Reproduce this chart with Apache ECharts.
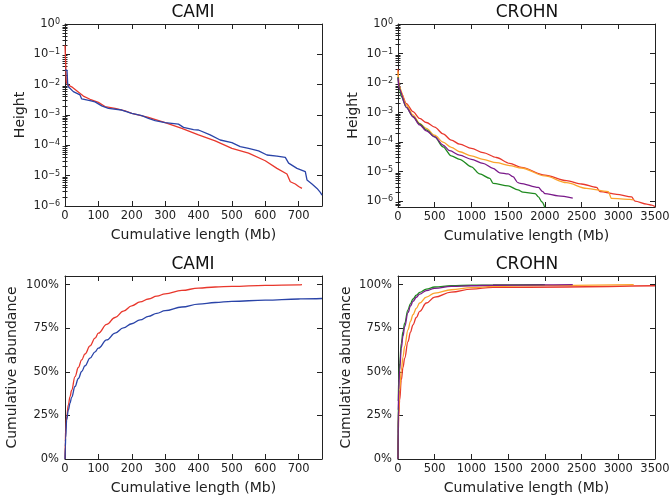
<!DOCTYPE html>
<html>
<head>
<meta charset="utf-8">
<script src="https://cdn.jsdelivr.net/npm/echarts@6/dist/echarts.min.js"></script>
<style>
  html, body { margin: 0; padding: 0; background: #fff; }
  #chart { width: 670px; height: 499px; }
</style>
</head>
<body>
<div id="chart"></div>
<script>
// CAMI, height vs cumulative length (Mb)
const camiRedHLen = [0, 2, 4, 8, 20, 35, 55, 75, 100, 120, 150, 180, 200, 250, 300, 350, 400, 450, 500, 550, 600, 635, 665, 675, 690, 700, 710];
const camiRedH = [0.2, 0.05, 0.012, 0.0098, 0.0085, 0.0063, 0.0042, 0.0033, 0.0026, 0.0019, 0.00166, 0.00138, 0.00113, 0.00083, 0.00056, 0.00036, 0.00022, 0.00014, 7.9e-5, 5.5e-5, 3.1e-5, 1.74e-5, 1.13e-5, 6.3e-6, 5.3e-6, 4.4e-6, 3.8e-6];
const camiBlueHLen = [0, 4, 6, 8, 10, 25, 45, 50, 75, 90, 110, 130, 170, 200, 230, 250, 270, 300, 340, 355, 385, 400, 435, 465, 500, 525, 550, 580, 605, 635, 660, 670, 695, 720, 725, 740, 755, 765, 770];
const camiBlueH = [0.03, 0.032, 0.03, 0.011, 0.0085, 0.0059, 0.0046, 0.0034, 0.003, 0.0027, 0.002, 0.00166, 0.00146, 0.00113, 0.00095, 0.00078, 0.00065, 0.00056, 0.0005, 0.00039, 0.00033, 0.00032, 0.00022, 0.00015, 0.000123, 9.1e-5, 7.9e-5, 6.6e-5, 4.8e-5, 4.4e-5, 4e-5, 2.6e-5, 1.74e-5, 1.35e-5, 7.2e-6, 5.3e-6, 3.8e-6, 2.8e-6, 2.3e-6];

// CROHN, height vs cumulative length (Mb)
const crohnRedHLen = [0, 14, 45, 114, 204, 295, 386, 500, 613, 726, 840, 1000, 1158, 1340, 1521, 1680, 2000, 2295, 2500, 2704, 2750, 2977, 3181, 3227, 3386, 3454, 3500];
const crohnRedH = [0.03, 0.0085, 0.0045, 0.002, 0.00107, 0.00063, 0.00046, 0.00032, 0.00019, 0.000117, 8.5e-5, 6.1e-5, 4.4e-5, 3e-5, 1.9e-5, 1.38e-5, 7.6e-6, 4.9e-6, 3.8e-6, 2.9e-6, 2.1e-6, 1.7e-6, 1.4e-6, 1e-6, 7.9e-7, 7.3e-7, 6.5e-7];
const crohnOrangeHLen = [0, 14, 114, 204, 295, 386, 500, 613, 726, 840, 1000, 1158, 1340, 1521, 1680, 2000, 2295, 2567, 2863, 2908, 3158, 3210];
const crohnOrangeH = [0.025, 0.0076, 0.0018, 0.00083, 0.00043, 0.00029, 0.00017, 0.0001, 6.6e-5, 4.7e-5, 3.4e-5, 2.6e-5, 2e-5, 1.6e-5, 1.32e-5, 7.1e-6, 4.2e-6, 2.7e-6, 2.1e-6, 1.23e-6, 1.15e-6, 1.1e-6];
const crohnPurpleHLen = [0, 14, 114, 204, 295, 386, 500, 613, 704, 840, 1000, 1158, 1294, 1385, 1500, 1566, 1634, 1663, 1912, 1971, 2000, 2181, 2380];
const crohnPurpleH = [0.015, 0.0066, 0.0015, 0.00072, 0.00038, 0.00024, 0.00015, 7.9e-5, 5.1e-5, 3.6e-5, 2.6e-5, 1.9e-5, 1.29e-5, 9.1e-6, 8.3e-6, 6.7e-6, 4.2e-6, 4e-6, 2.9e-6, 2.1e-6, 1.8e-6, 1.5e-6, 1.25e-6];
const crohnGreenHLen = [0, 14, 45, 114, 204, 295, 386, 500, 613, 726, 840, 1000, 1112, 1250, 1294, 1500, 1634, 1700, 1867, 1912, 1958, 2000];
const crohnGreenH = [0.016, 0.0076, 0.0035, 0.0015, 0.00072, 0.00041, 0.00026, 0.00015, 6.9e-5, 3.4e-5, 2.6e-5, 1.45e-5, 8.3e-6, 5.9e-6, 4e-6, 3.3e-6, 2.4e-6, 2e-6, 1.8e-6, 1.4e-6, 9.5e-7, 6e-7];

// cumulative abundance (%)
const camiAbLen = [0, 1, 2, 5, 10, 15, 20, 30, 40, 50, 60, 75, 90, 100, 125, 150, 175, 200, 225, 250, 275, 300, 350, 400, 450, 500, 600, 700, 710, 770];
const camiRedAb = [0, 10, 16.7, 24.3, 31, 35.8, 39.5, 47.3, 52.5, 56.9, 60.3, 64.9, 69.3, 72.2, 77.2, 81.2, 84.8, 87.9, 90.1, 91.8, 93.4, 94.8, 96.7, 98.1, 98.7, 99.0, 99.6, 99.9, 100];
const camiBlueAb = [0, 7, 12, 22.4, 28, 32, 35.5, 41.6, 46.2, 50.2, 53.5, 57.9, 61.5, 63.6, 68.3, 72.2, 75.2, 77.6, 79.8, 81.8, 83.6, 85.1, 87.2, 88.9, 89.8, 90.4, 91.2, 91.8, 91.9, 92.1];

const crohnAbLen = [0, 4, 9, 23, 45, 68, 91, 136, 170, 204, 250, 295, 386, 500, 726, 1000, 1294, 2000];
const crohnGreenAb = [0, 33, 45, 55, 66.5, 73, 78, 85.6, 89.2, 91.8, 94, 95.6, 97.5, 98.7, 99.4, 99.7, 99.85, 100];
const crohnPurpleAb = [0, 28, 39.7, 51, 63.6, 70.5, 76, 84, 87.8, 90.4, 92.8, 94.6, 96.6, 97.9, 99.0, 99.4, 99.7, 99.9, 100];
const crohnOrangeAb = [0, 18, 28, 39.7, 51, 58.5, 64.6, 74.1, 79, 82.8, 86.5, 89.5, 92.9, 95.2, 97.1, 98.3, 99.0, 99.6, 100];
const crohnRedAb = [0, 15, 24.3, 33.9, 45.4, 52.5, 57.9, 67.4, 72.8, 77, 81.2, 84.7, 89.5, 92.9, 95.8, 97.5, 98.5, 99.4, 100];
const crohnAbEnd = { purple: 2380, orange: 3210, red: 3500 };

const camiTicks = [0, 100, 200, 300, 400, 500, 600, 700];
const crohnTicks = [0, 500, 1000, 1500, 2000, 2500, 3000, 3500];
const decadeTicks = [-6, -5, -4, -3, -2, -1, 0];
const pctTicks = [0, 25, 50, 75, 100];

const RED = '#e8372c', BLUE = '#2a44a8', ORANGE = '#fba42c', PURPLE = '#7a1a8a', GREEN = '#1f8a1f';
const FONT = 'DejaVu Sans';
const INK = '#222';

const zip = (xs, ys) => ys.map((y, i) => [xs[i], y]);
const zipLog = (xs, ys) => ys.map((y, i) => [xs[i], Math.log10(y)]);

function minorTicks(min) {
  const out = [];
  for (let d = -7; d < 0; d++) {
    for (let k = 2; k <= 9; k++) {
      const v = d + Math.log10(k);
      if (v >= min && v <= 0) out.push(v);
    }
  }
  return out;
}

function xAxes(gridIndex, max, ticks) {
  return [
    {
      gridIndex, type: 'value', position: 'bottom', min: 0, max,
      name: 'Cumulative length (Mb)', nameLocation: 'middle', nameGap: 22,
      nameTextStyle: { fontFamily: FONT, fontSize: 14, color: INK },
      axisLine: { show: true, onZero: false, lineStyle: { color: INK, width: 1 } },
      axisTick: { show: true, inside: true, length: 5, customValues: ticks, lineStyle: { color: INK } },
      axisLabel: { customValues: ticks, margin: 4, formatter: v => String(v), fontFamily: FONT, fontSize: 11.5, color: INK },
      splitLine: { show: false }
    },
    {
      gridIndex, type: 'value', position: 'top', min: 0, max,
      axisLine: { show: true, onZero: false, lineStyle: { color: INK, width: 1 } },
      axisTick: { show: true, inside: true, length: 5, customValues: ticks, lineStyle: { color: INK } },
      axisLabel: { show: false },
      splitLine: { show: false }
    }
  ];
}

function logYAxes(gridIndex, min, nameGap) {
  const minor = minorTicks(min);
  const base = { gridIndex, type: 'value', min, max: 0, splitLine: { show: false } };
  return [
    Object.assign({}, base, {
      position: 'left',
      name: 'Height', nameLocation: 'middle', nameGap,
      nameTextStyle: { fontFamily: FONT, fontSize: 14, color: INK },
      axisLine: { show: true, onZero: false, lineStyle: { color: INK, width: 1 } },
      axisTick: { show: true, inside: true, length: 5, customValues: decadeTicks, lineStyle: { color: INK } },
      axisLabel: {
        customValues: decadeTicks, margin: 5,
        formatter: v => {
          const e = Math.round(v);
          return '{b|10}{s|' + (e === 0 ? '0' : '\u2212' + (-e)) + '}';
        },
        rich: {
          b: { fontFamily: FONT, fontSize: 11.5, color: INK },
          s: { fontFamily: FONT, fontSize: 8, color: INK, verticalAlign: 'top' }
        }
      }
    }),
    Object.assign({}, base, {
      position: 'right',
      axisLine: { show: true, onZero: false, lineStyle: { color: INK, width: 1 } },
      axisTick: { show: true, inside: true, length: 5, customValues: decadeTicks, lineStyle: { color: INK } },
      axisLabel: { show: false }
    }),
    Object.assign({}, base, {
      position: 'left',
      axisLine: { show: false },
      axisTick: { show: true, inside: true, length: 2.5, customValues: minor, lineStyle: { color: INK } },
      axisLabel: { show: false }
    }),
    Object.assign({}, base, {
      position: 'right',
      axisLine: { show: false },
      axisTick: { show: true, inside: true, length: 2.5, customValues: minor, lineStyle: { color: INK } },
      axisLabel: { show: false }
    })
  ];
}

function pctYAxes(gridIndex, nameGap) {
  const base = { gridIndex, type: 'value', min: 0, max: 105, splitLine: { show: false } };
  return [
    Object.assign({}, base, {
      position: 'left',
      name: 'Cumulative abundance', nameLocation: 'middle', nameGap,
      nameTextStyle: { fontFamily: FONT, fontSize: 14, color: INK },
      axisLine: { show: true, onZero: false, lineStyle: { color: INK, width: 1 } },
      axisTick: { show: true, inside: true, length: 5, customValues: pctTicks, lineStyle: { color: INK } },
      axisLabel: { customValues: pctTicks, margin: 6, formatter: v => v + '%', fontFamily: FONT, fontSize: 11.5, color: INK }
    }),
    Object.assign({}, base, {
      position: 'right',
      axisLine: { show: true, onZero: false, lineStyle: { color: INK, width: 1 } },
      axisTick: { show: true, inside: true, length: 5, customValues: pctTicks, lineStyle: { color: INK } },
      axisLabel: { show: false }
    })
  ];
}

function line(name, color, xi, yi, data, smooth) {
  return {
    name, type: 'line', xAxisIndex: xi, yAxisIndex: yi, data,
    showSymbol: false, symbol: 'none', clip: true,
    smooth: smooth || false, smoothMonotone: 'x',
    lineStyle: { color, width: 1.3 }, itemStyle: { color }
  };
}

const chart = echarts.init(document.getElementById('chart'), null, { renderer: 'canvas' });

const titleStyle = { fontFamily: FONT, fontSize: 17, fontWeight: 'normal', color: '#111' };

chart.setOption({
  animation: false,
  backgroundColor: '#fff',
  title: [
    { text: 'CAMI', left: 193, top: 4, textAlign: 'center', padding: 0, textStyle: titleStyle },
    { text: 'CROHN', left: 527, top: 4, textAlign: 'center', padding: 0, textStyle: titleStyle },
    { text: 'CAMI', left: 193, top: 256, textAlign: 'center', padding: 0, textStyle: titleStyle },
    { text: 'CROHN', left: 527, top: 256, textAlign: 'center', padding: 0, textStyle: titleStyle }
  ],
  grid: [
    { left: 65, top: 24, width: 257, height: 182, outerBoundsMode: 'none' },
    { left: 398, top: 24, width: 257, height: 183, outerBoundsMode: 'none' },
    { left: 65, top: 276, width: 257, height: 183, outerBoundsMode: 'none' },
    { left: 398, top: 276, width: 257, height: 183, outerBoundsMode: 'none' }
  ],
  xAxis: [
    ...xAxes(0, 770, camiTicks),
    ...xAxes(1, 3500, crohnTicks),
    ...xAxes(2, 770, camiTicks),
    ...xAxes(3, 3500, crohnTicks)
  ],
  yAxis: [
    ...logYAxes(0, -6, 38),
    ...logYAxes(1, -6.2, 38),
    ...pctYAxes(2, 46),
    ...pctYAxes(3, 45)
  ],
  series: [
    line('CAMI red', RED, 0, 0, zipLog(camiRedHLen, camiRedH)),
    line('CAMI blue', BLUE, 0, 0, zipLog(camiBlueHLen, camiBlueH)),

    line('CROHN red', RED, 2, 4, zipLog(crohnRedHLen, crohnRedH), 0.3),
    line('CROHN orange', ORANGE, 2, 4, zipLog(crohnOrangeHLen, crohnOrangeH), 0.3),
    line('CROHN green', GREEN, 2, 4, zipLog(crohnGreenHLen, crohnGreenH), 0.3),
    line('CROHN purple', PURPLE, 2, 4, zipLog(crohnPurpleHLen, crohnPurpleH), 0.3),

    line('CAMI red', RED, 4, 8, zip(camiAbLen, camiRedAb), 0.4),
    line('CAMI blue', BLUE, 4, 8, zip(camiAbLen, camiBlueAb), 0.4),

    line('CROHN red', RED, 6, 10, zip(crohnAbLen.slice(0, -1).concat([crohnAbEnd.red]), crohnRedAb), 0.4),
    line('CROHN orange', ORANGE, 6, 10, zip(crohnAbLen.concat([crohnAbEnd.orange]), crohnOrangeAb), 0.4),
    line('CROHN green', GREEN, 6, 10, zip(crohnAbLen, crohnGreenAb), 0.4),
    line('CROHN purple', PURPLE, 6, 10, zip(crohnAbLen.concat([crohnAbEnd.purple]), crohnPurpleAb), 0.4)
  ]
});
</script>
</body>
</html>
